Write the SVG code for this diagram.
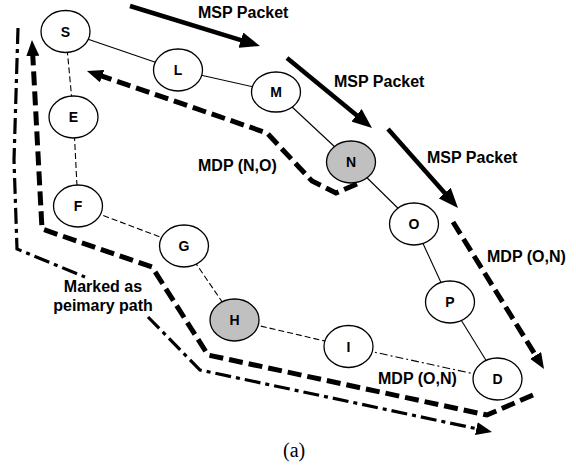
<svg xmlns="http://www.w3.org/2000/svg" width="576" height="466" viewBox="0 0 576 466">
<style>
.nd{fill:#fff;stroke:#000;stroke-width:1.3}
.gr{fill:#c0c0c0}
.lb{font-family:"Liberation Sans",Arial,sans-serif;font-weight:bold;font-size:14px;text-anchor:middle;fill:#000}
.tx{font-family:"Liberation Sans",Arial,sans-serif;font-weight:bold;font-size:16px;fill:#000}
.e{stroke:#000;stroke-width:1.1;fill:none}
.ed{stroke-dasharray:6 3}
.edd{stroke-dasharray:8 3 2 3}
.msp{stroke:#000;stroke-width:4.5;fill:none}
.mdp{stroke:#000;stroke-width:5;fill:none;stroke-dasharray:14 6}
.dd{stroke:#000;stroke-width:3.2;fill:none;stroke-dasharray:16 5 4 5}
</style>
<defs>
<marker id="big" markerUnits="userSpaceOnUse" markerWidth="20" markerHeight="16" viewBox="0 0 20 16" refX="6" refY="8" orient="auto"><path d="M0,0 L20,8 L0,16 z" fill="#000"/></marker>
<marker id="mid" markerUnits="userSpaceOnUse" markerWidth="16" markerHeight="13" viewBox="0 0 16 13" refX="4" refY="6.5" orient="auto"><path d="M0,0 L16,6.5 L0,13 z" fill="#000"/></marker>
</defs>
<g id="connectors">
<line class="e" x1="65.5" y1="31.5" x2="178" y2="70"/>
<line class="e" x1="178" y1="70" x2="276" y2="92"/>
<line class="e" x1="276" y1="92" x2="351" y2="162"/>
<line class="e" x1="351" y1="162" x2="414" y2="224"/>
<line class="e" x1="414" y1="224" x2="450" y2="302"/>
<line class="e" x1="450" y1="302" x2="497.5" y2="379"/>
<line class="e ed" x1="65.5" y1="31.5" x2="73.5" y2="117"/>
<line class="e ed" x1="73.5" y1="117" x2="78" y2="206"/>
<line class="e ed" x1="78" y1="206" x2="184" y2="246"/>
<line class="e ed" x1="184" y1="246" x2="234.5" y2="320"/>
<line class="e ed" x1="234.5" y1="320" x2="348.5" y2="346.5"/>
<line class="e edd" x1="348.5" y1="346.5" x2="497.5" y2="379"/>
<path class="msp" d="M130,6 L246.6,41.9" marker-end="url(#big)"/>
<path class="msp" d="M287,58 L361.2,119.1" marker-end="url(#big)"/>
<path class="msp" d="M388,129 L448.7,197.5" marker-end="url(#big)"/>
<path class="mdp" d="M357,184 L336,193 L312,181 L267,133 L98.3,74.9" marker-end="url(#mid)"/>
<path class="mdp" d="M453,222 L537.7,358.8" marker-end="url(#mid)"/>
<path class="mdp" d="M533,395 L487,415 L208,355 L152,267 L42,229 L32.6,52" marker-end="url(#mid)"/>
<path class="dd" d="M18,28 L14,160 L17,249 L85,277 M148,317 L200,370 L480.3,429.5" marker-end="url(#mid)"/>
</g>
<g id="S"><ellipse class="nd" cx="65.5" cy="31.5" rx="24.5" ry="21"/><text class="lb" x="65.5" y="36.5">S</text></g>
<g id="L"><ellipse class="nd" cx="178" cy="70" rx="24.5" ry="21"/><text class="lb" x="178" y="75">L</text></g>
<g id="M"><ellipse class="nd" cx="276" cy="92" rx="24.5" ry="20"/><text class="lb" x="276" y="97">M</text></g>
<g id="N"><ellipse class="nd gr" cx="351" cy="162" rx="24.5" ry="21"/><text class="lb" x="351" y="167">N</text></g>
<g id="O"><ellipse class="nd" cx="414" cy="224" rx="24.5" ry="21"/><text class="lb" x="414" y="229">O</text></g>
<g id="P"><ellipse class="nd" cx="450" cy="302" rx="24.5" ry="21"/><text class="lb" x="450" y="307">P</text></g>
<g id="D"><ellipse class="nd" cx="497.5" cy="379" rx="24.5" ry="21"/><text class="lb" x="497.5" y="384">D</text></g>
<g id="E"><ellipse class="nd" cx="73.5" cy="117" rx="24.5" ry="21"/><text class="lb" x="73.5" y="122">E</text></g>
<g id="F"><ellipse class="nd" cx="78" cy="206" rx="24.5" ry="21"/><text class="lb" x="78" y="211">F</text></g>
<g id="G"><ellipse class="nd" cx="184" cy="246" rx="24.5" ry="21"/><text class="lb" x="184" y="251">G</text></g>
<g id="H"><ellipse class="nd gr" cx="234.5" cy="320" rx="24.5" ry="21"/><text class="lb" x="234.5" y="325">H</text></g>
<g id="I"><ellipse class="nd" cx="348.5" cy="346.5" rx="24.5" ry="21"/><text class="lb" x="348.5" y="351.5">I</text></g>
<g id="labels">
<text class="tx" x="198" y="18">MSP Packet</text>
<text class="tx" x="334" y="87">MSP Packet</text>
<text class="tx" x="427" y="163">MSP Packet</text>
<text class="tx" x="198" y="171">MDP (N,O)</text>
<text class="tx" x="487" y="262">MDP (O,N)</text>
<text class="tx" x="378" y="384">MDP (O,N)</text>
<text class="tx" x="103" y="292" text-anchor="middle">Marked as</text>
<text class="tx" x="103" y="311" text-anchor="middle">peimary path</text>
<text x="283" y="457" font-family="'Liberation Serif','Times New Roman',serif" font-size="20" fill="#000">(a)</text>
</g>
</svg>
